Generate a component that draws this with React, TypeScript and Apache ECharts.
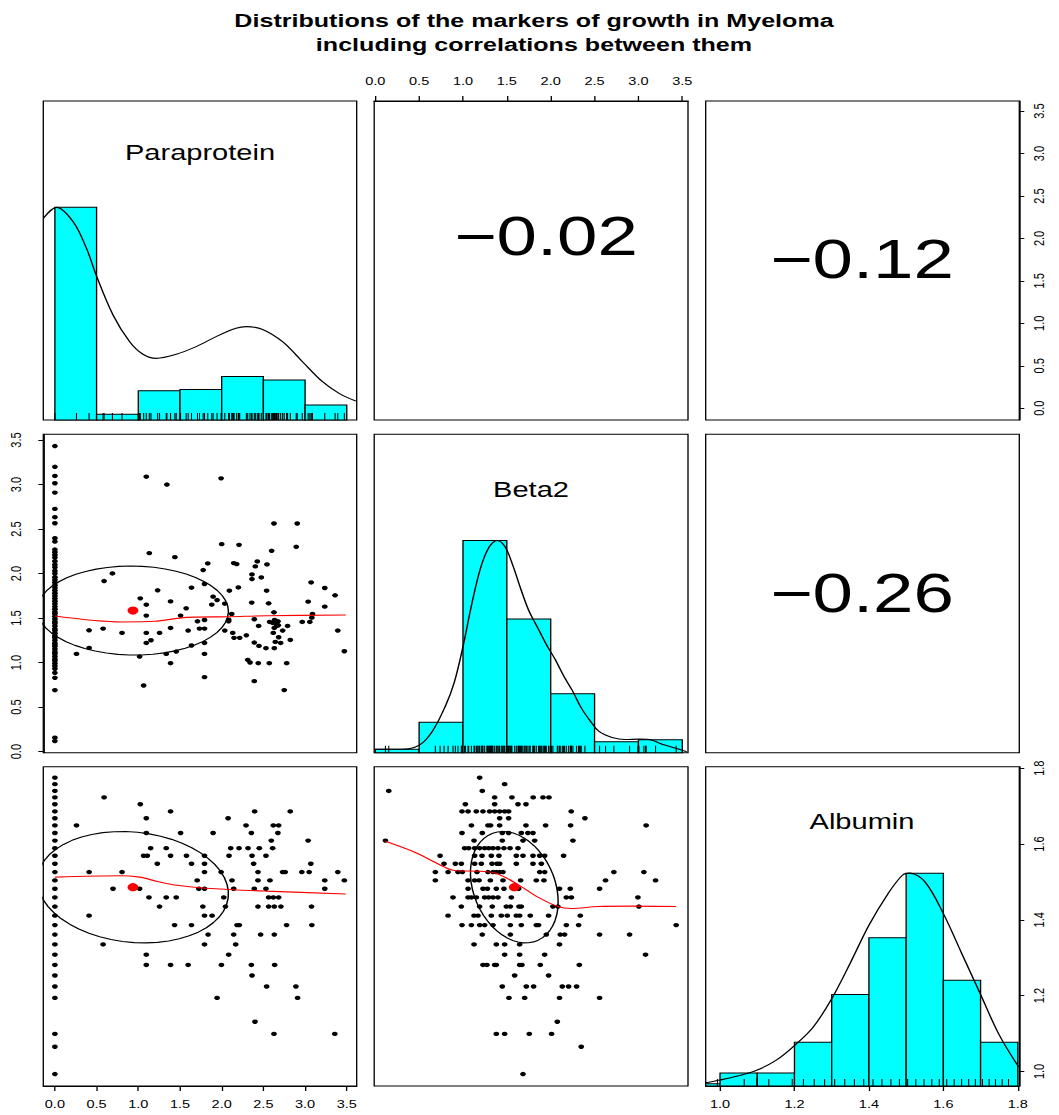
import React, { useEffect, useRef } from 'react';
import * as echarts from 'echarts';

// ---------------- DATA ----------------
const variableNames = ['Paraprotein', 'Beta2', 'Albumin'];
const correlationLabels = ['\u22120.02', '\u22120.12', '\u22120.26']; // (Para,Beta2), (Para,Albumin), (Beta2,Albumin)
const correlationValues = [-0.02, -0.12, -0.26];
const variableMeans = [0.936, 1.585, 1.486];
const variableSds = [1.145, 0.5, 0.147];
const axisRanges: number[][] = [[-0.139, 3.619], [-0.012, 3.565], [0.9615, 1.804]];
const paraTicks = [0, 0.5, 1.0, 1.5, 2.0, 2.5, 3.0, 3.5];
const beta2Ticks = [0, 0.5, 1.0, 1.5, 2.0, 2.5, 3.0, 3.5];
const albuminTicks = [1.0, 1.2, 1.4, 1.6, 1.8];

// histograms (bar heights relative to tallest bar)
const paraBreaks = [0, 0.5, 1.0, 1.5, 2.0, 2.5, 3.0, 3.5];
const paraHeights = [1.0, 0.027, 0.138, 0.144, 0.204, 0.188, 0.071];
const beta2Breaks = [0, 0.5, 1.0, 1.5, 2.0, 2.5, 3.0, 3.5];
const beta2Heights = [0.016, 0.143, 1.0, 0.63, 0.278, 0.052, 0.061];
const albuminBreaks = [0.9, 1.0, 1.1, 1.2, 1.3, 1.4, 1.5, 1.6, 1.7, 1.8];
const albuminHeights = [0.011, 0.061, 0.061, 0.205, 0.43, 0.696, 1.0, 0.497, 0.205];

// density curves (scaled to peak 1)
const paraDensity = [[-0.139, 0.948], [0.02, 1.0], [0.219, 0.932], [0.379, 0.807], [0.502, 0.674], [0.697, 0.494], [0.897, 0.368], [1.056, 0.309], [1.216, 0.29], [1.455, 0.309], [1.694, 0.345], [1.933, 0.392], [2.172, 0.431], [2.292, 0.439], [2.491, 0.426], [2.73, 0.368], [2.969, 0.274], [3.209, 0.18], [3.408, 0.125], [3.607, 0.089]];
const beta2Density = [[-0.01, 0.016], [0.3, 0.016], [0.5, 0.035], [0.65, 0.1], [0.8, 0.22], [0.9, 0.33], [1.0, 0.5], [1.1, 0.7], [1.2, 0.87], [1.3, 0.97], [1.39, 1.0], [1.48, 0.97], [1.57, 0.88], [1.66, 0.77], [1.75, 0.67], [1.85, 0.59], [1.95, 0.51], [2.05, 0.44], [2.15, 0.36], [2.25, 0.29], [2.35, 0.21], [2.45, 0.15], [2.55, 0.1], [2.7, 0.072], [2.85, 0.062], [3.0, 0.064], [3.1, 0.063], [3.3, 0.036], [3.55, 0.005]];
const albuminDensity = [[0.962, 0.0155], [1.0, 0.028], [1.05, 0.048], [1.1, 0.075], [1.15, 0.12], [1.2, 0.19], [1.25, 0.276], [1.3, 0.41], [1.35, 0.578], [1.4, 0.755], [1.45, 0.9], [1.49, 0.99], [1.51, 1.0], [1.55, 0.96], [1.6, 0.81], [1.65, 0.62], [1.7, 0.43], [1.75, 0.24], [1.802, 0.09]];

// Paraprotein = 0 column (Beta2 values)
const zeroParaBeta2 = [3.433, 3.2, 3.097, 3.015, 2.91, 2.727, 2.634, 2.566, 2.398, 2.36, 2.27, 2.24, 2.21, 2.18, 2.14, 2.1, 2.07, 2.03, 2.0, 1.96, 1.93, 1.9, 1.87, 1.84, 1.81, 1.78, 1.75, 1.72, 1.69, 1.66, 1.63, 1.6, 1.57, 1.55, 1.52, 1.49, 1.46, 1.44, 1.41, 1.38, 1.36, 1.33, 1.3, 1.28, 1.25, 1.22, 1.2, 1.18, 1.15, 1.12, 1.1, 1.07, 1.04, 1.02, 0.99, 0.96, 0.93, 0.885, 0.829, 0.69, 0.157, 0.119];
// Paraprotein vs Beta2 (non-zero paraprotein)
const paraBeta2Points = [[0.259, 1.098], [0.41, 1.363], [0.41, 1.165], [0.578, 1.382], [0.59, 1.916], [0.69, 2.002], [0.805, 1.334], [1.016, 1.068], [1.024, 1.722], [1.064, 0.743], [1.096, 3.089], [1.096, 1.651], [1.096, 1.528], [1.096, 1.334], [1.096, 1.221], [1.132, 2.23], [1.152, 1.251], [1.232, 1.812], [1.255, 1.334], [1.335, 1.098], [1.343, 3.0], [1.387, 1.688], [1.387, 1.39], [1.387, 0.994], [1.439, 2.185], [1.455, 1.124], [1.507, 1.528], [1.574, 1.61], [1.598, 1.36], [1.638, 1.842], [1.638, 1.192], [1.71, 1.464], [1.734, 1.382], [1.778, 2.04], [1.794, 1.883], [1.794, 1.479], [1.794, 1.382], [1.794, 1.221], [1.794, 1.098], [1.794, 0.837], [1.833, 2.114], [1.881, 1.651], [1.897, 1.741], [1.945, 1.703], [1.993, 3.07], [2.0, 2.331], [2.037, 1.662], [2.037, 1.36], [2.084, 1.483], [2.084, 1.464], [2.092, 1.808], [2.12, 1.546], [2.132, 1.334], [2.144, 2.118], [2.148, 1.278], [2.18, 2.107], [2.2, 1.845], [2.208, 2.323], [2.216, 1.278], [2.296, 1.307], [2.312, 1.031], [2.34, 1.001], [2.36, 1.674], [2.363, 1.991], [2.363, 1.939], [2.391, 1.487], [2.391, 1.225], [2.391, 0.792], [2.403, 2.081], [2.427, 2.137], [2.439, 0.994], [2.443, 1.412], [2.447, 1.188], [2.475, 1.957], [2.531, 1.162], [2.539, 1.808], [2.543, 2.103], [2.563, 1.666], [2.571, 0.994], [2.575, 1.457], [2.599, 2.256], [2.611, 1.446], [2.619, 1.334], [2.627, 2.563], [2.627, 1.565], [2.631, 1.162], [2.635, 1.479], [2.643, 1.233], [2.659, 1.412], [2.675, 1.464], [2.683, 1.285], [2.707, 1.221], [2.731, 1.36], [2.75, 0.691], [2.779, 0.994], [2.79, 1.412], [2.823, 1.255], [2.894, 2.301], [2.906, 2.563], [2.966, 1.457], [3.037, 1.685], [3.057, 1.457], [3.073, 1.901], [3.081, 1.505], [3.089, 1.546], [3.236, 1.838], [3.236, 1.629], [3.36, 1.756], [3.392, 1.36], [3.471, 1.128], [2.658, 1.438], [2.679, 1.419], [2.631, 1.39]];

// Paraprotein = 0 column (Albumin values)
const zeroParaAlbumin = [1.775, 1.758, 1.740, 1.723, 1.705, 1.686, 1.668, 1.649, 1.629, 1.609, 1.589, 1.569, 1.548, 1.526, 1.504, 1.482, 1.459, 1.435, 1.411, 1.386, 1.361, 1.335, 1.308, 1.281, 1.253, 1.224, 1.194, 1.099, 1.065, 0.993];
// Paraprotein vs Albumin (non-zero paraprotein)
const paraAlbuminPoints = [[0.59, 1.723], [1.024, 1.705], [1.387, 1.686], [2.395, 1.686], [2.822, 1.686], [1.096, 1.668], [2.077, 1.668], [0.259, 1.649], [2.292, 1.649], [2.619, 1.649], [2.683, 1.649], [1.096, 1.629], [1.507, 1.629], [1.897, 1.629], [2.356, 1.629], [2.674, 1.629], [2.595, 1.609], [3.037, 1.609], [1.148, 1.589], [1.335, 1.589], [2.108, 1.589], [2.208, 1.589], [2.316, 1.589], [2.451, 1.589], [2.611, 1.589], [1.064, 1.569], [1.108, 1.569], [1.387, 1.569], [1.578, 1.569], [1.794, 1.569], [2.088, 1.569], [2.364, 1.569], [2.531, 1.569], [1.228, 1.548], [1.638, 1.548], [1.794, 1.548], [2.383, 1.548], [3.069, 1.548], [0.41, 1.526], [0.805, 1.526], [1.794, 1.526], [1.993, 1.526], [2.435, 1.526], [2.73, 1.526], [2.762, 1.526], [2.961, 1.526], [3.049, 1.526], [3.392, 1.526], [1.706, 1.504], [2.124, 1.504], [2.435, 1.504], [2.579, 1.504], [3.236, 1.504], [3.471, 1.504], [0.697, 1.482], [1.016, 1.482], [1.726, 1.482], [1.794, 1.482], [2.144, 1.482], [2.391, 1.482], [2.531, 1.482], [3.236, 1.482], [1.128, 1.459], [1.335, 1.459], [1.455, 1.459], [2.025, 1.459], [2.563, 1.459], [2.619, 1.459], [2.683, 1.459], [1.255, 1.435], [1.774, 1.435], [2.045, 1.435], [2.435, 1.435], [2.563, 1.435], [2.631, 1.435], [2.71, 1.435], [3.077, 1.435], [0.41, 1.411], [1.794, 1.411], [1.885, 1.411], [1.435, 1.386], [1.638, 1.386], [2.184, 1.386], [2.212, 1.386], [2.778, 1.386], [3.081, 1.386], [1.837, 1.361], [2.144, 1.361], [2.467, 1.361], [2.631, 1.361], [0.578, 1.335], [1.794, 1.335], [2.168, 1.335], [1.096, 1.308], [2.084, 1.308], [1.096, 1.281], [1.387, 1.281], [1.598, 1.281], [1.997, 1.281], [2.356, 1.281], [2.635, 1.281], [2.364, 1.253], [2.539, 1.224], [2.89, 1.224], [1.945, 1.194], [2.91, 1.194], [2.399, 1.131], [2.627, 1.099], [3.356, 1.099]];

// Beta2 vs Albumin
const beta2AlbuminPoints = [[1.19, 1.775], [1.475, 1.758], [0.154, 1.740], [1.22, 1.740], [1.361, 1.723], [1.558, 1.723], [1.80, 1.723], [1.912, 1.723], [1.98, 1.723], [1.027, 1.705], [1.361, 1.705], [1.627, 1.705], [1.718, 1.705], [0.989, 1.686], [1.058, 1.686], [1.152, 1.686], [1.228, 1.686], [1.304, 1.686], [1.361, 1.686], [1.418, 1.686], [1.475, 1.686], [1.52, 1.686], [2.234, 1.686], [1.418, 1.668], [1.52, 1.668], [2.39, 1.668], [1.096, 1.649], [1.285, 1.649], [1.315, 1.649], [1.418, 1.649], [1.718, 1.649], [1.942, 1.649], [2.227, 1.649], [3.088, 1.649], [0.989, 1.629], [1.22, 1.629], [1.448, 1.629], [1.52, 1.629], [1.665, 1.629], [1.74, 1.629], [1.798, 1.629], [0.116, 1.609], [1.126, 1.609], [1.448, 1.609], [1.684, 1.609], [1.817, 1.609], [2.253, 1.609], [1.019, 1.589], [1.065, 1.589], [1.133, 1.589], [1.19, 1.589], [1.247, 1.589], [1.293, 1.589], [1.342, 1.589], [1.399, 1.589], [1.467, 1.589], [1.536, 1.589], [1.627, 1.589], [0.739, 1.569], [1.133, 1.569], [1.217, 1.569], [1.323, 1.569], [1.41, 1.569], [1.608, 1.569], [1.684, 1.569], [1.798, 1.569], [1.874, 1.569], [1.931, 1.569], [2.147, 1.569], [0.784, 1.548], [0.913, 1.548], [0.981, 1.548], [1.133, 1.548], [1.209, 1.548], [1.331, 1.548], [1.388, 1.548], [1.418, 1.548], [1.608, 1.548], [1.798, 1.548], [1.893, 1.548], [0.685, 1.526], [0.83, 1.526], [0.943, 1.526], [0.993, 1.526], [1.16, 1.526], [1.285, 1.526], [1.342, 1.526], [1.38, 1.526], [1.418, 1.526], [1.456, 1.526], [1.874, 1.526], [1.931, 1.526], [2.72, 1.526], [3.062, 1.526], [0.685, 1.504], [1.058, 1.504], [1.133, 1.504], [1.183, 1.504], [1.312, 1.504], [1.456, 1.504], [1.657, 1.504], [1.836, 1.504], [1.923, 1.504], [2.625, 1.504], [3.195, 1.504], [1.058, 1.482], [1.228, 1.482], [1.278, 1.482], [1.38, 1.482], [1.467, 1.482], [1.634, 1.482], [2.1, 1.482], [2.223, 1.482], [2.557, 1.482], [0.886, 1.459], [1.058, 1.459], [1.096, 1.459], [1.152, 1.459], [1.247, 1.459], [1.293, 1.459], [1.342, 1.459], [1.399, 1.459], [1.551, 1.459], [2.178, 1.459], [2.236, 1.459], [2.994, 1.459], [0.981, 1.435], [1.19, 1.435], [1.334, 1.435], [1.494, 1.435], [1.54, 1.435], [1.638, 1.435], [1.665, 1.435], [2.025, 1.435], [2.082, 1.435], [3.005, 1.435], [0.83, 1.411], [1.126, 1.411], [1.171, 1.411], [1.323, 1.411], [1.437, 1.411], [1.505, 1.411], [1.608, 1.411], [1.646, 1.411], [1.767, 1.411], [1.976, 1.411], [2.337, 1.411], [0.989, 1.386], [1.096, 1.386], [1.19, 1.386], [1.247, 1.386], [1.342, 1.386], [1.54, 1.386], [1.665, 1.386], [1.836, 1.386], [1.862, 1.386], [2.178, 1.386], [2.318, 1.386], [3.43, 1.386], [1.22, 1.361], [1.54, 1.361], [1.95, 1.361], [2.109, 1.361], [2.158, 1.361], [2.557, 1.361], [2.899, 1.361], [1.126, 1.335], [1.38, 1.335], [1.475, 1.335], [1.646, 1.335], [2.1, 1.335], [1.475, 1.308], [1.646, 1.308], [1.931, 1.308], [3.081, 1.308], [1.228, 1.281], [1.273, 1.281], [1.361, 1.281], [1.38, 1.281], [1.646, 1.281], [1.672, 1.281], [1.881, 1.281], [2.326, 1.281], [1.589, 1.253], [1.976, 1.253], [1.448, 1.224], [1.722, 1.224], [1.805, 1.224], [2.132, 1.224], [2.204, 1.224], [2.295, 1.224], [1.524, 1.194], [1.703, 1.194], [2.1, 1.194], [2.557, 1.194], [2.075, 1.131], [1.38, 1.099], [1.475, 1.099], [1.756, 1.099], [2.01, 1.099], [2.348, 1.065], [1.684, 0.993]];

// smoothers (red)
const paraBeta2Smooth = [[0, 1.524], [0.797, 1.457], [1.196, 1.464], [1.575, 1.508], [2.093, 1.516], [2.53, 1.527], [3.488, 1.535]];
const paraAlbuminSmooth = [[0, 1.5126], [0.777, 1.5163], [1.016, 1.5126], [1.216, 1.502], [1.415, 1.4926], [1.734, 1.4847], [2.133, 1.4795], [2.532, 1.4758], [3.488, 1.468]];
const beta2AlbuminSmooth = [[0.116, 1.607], [0.45, 1.578], [0.792, 1.539], [0.906, 1.530], [1.21, 1.528], [1.399, 1.521], [1.627, 1.493], [1.855, 1.46], [2.083, 1.435], [2.235, 1.430], [2.538, 1.435], [2.918, 1.436], [3.43, 1.435]];

// ---------------- LAYOUT ----------------
const PAGE_W = 1059;
const INNER_W = 802;
const PAGE_H = 1115;
const STRETCH = PAGE_W / INNER_W;
const FONT = "'Liberation Sans', Arial, Helvetica, sans-serif";
const COL_LEFT = [43.3, 374.2, 705.7];
const COL_WIDTH = [313.4, 313.8, 313.6];
const ROW_TOP = [101, 434.3, 766.7];
const ROW_HEIGHT = [319, 318.4, 319.3];
const HIST_RANGE = [0, 1.5];
const RUG_LEN = 7;

const fmt = (v: any) => Number(v).toFixed(1);

function hiddenAxis(gridIndex: number, range: number[]) {
  return {
    type: 'value', gridIndex, min: range[0], max: range[1], show: false,
    axisLine: { show: false, onZero: false }, splitLine: { show: false },
  };
}

function shownAxis(gridIndex: number, range: number[], position: string, ticks: number[], margin: number, vertical: boolean) {
  return {
    type: 'value', gridIndex, min: range[0], max: range[1], position, show: true,
    axisLine: { show: true, onZero: false, lineStyle: { color: '#000', width: 1 } },
    axisTick: { show: true, inside: false, length: vertical ? 5 / STRETCH : 5, customValues: ticks, lineStyle: { color: '#000', width: 1 } },
    axisLabel: {
      show: true, customValues: ticks, formatter: fmt, margin, rotate: vertical ? 90 : 0,
      fontSize: 11, fontFamily: FONT, color: '#000',
    },
    splitLine: { show: false },
  };
}

function ellipsePoints(mx: number, my: number, sx: number, sy: number, r: number, segments = 51) {
  const theta = r !== 0 ? Math.sign(r) / Math.SQRT2 : 1 / Math.SQRT2;
  const a = Math.sqrt(1 + r);
  const b = Math.sqrt(1 - r);
  const pts: number[][] = [];
  for (let i = 0; i <= segments; i++) {
    const ang = (i * 2 * Math.PI) / segments;
    const c = Math.cos(ang);
    const s = Math.sin(ang);
    const ux = c * a * theta - s * b * theta;
    const uy = c * a * theta + s * b * theta;
    pts.push([ux * sx + mx, uy * sy + my]);
  }
  return pts;
}

function histSeries(g: number, breaks: number[], heights: number[], xmin: number) {
  return {
    type: 'custom', xAxisIndex: g, yAxisIndex: g, silent: true, z: 2,
    data: heights.map((h, i) => [breaks[i], breaks[i + 1], h]),
    encode: { x: [0, 1], y: 2 },
    renderItem: (params: any, api: any) => {
      const x0 = Math.max(api.value(0), xmin);
      const p0 = api.coord([x0, 0]);
      const p1 = api.coord([api.value(1), api.value(2)]);
      return {
        type: 'rect',
        shape: { x: p0[0], y: p1[1], width: p1[0] - p0[0], height: p0[1] - p1[1] },
        style: { fill: '#00FFFF', stroke: '#000', lineWidth: 1 },
      };
    },
  };
}

function rugSeries(g: number, values: number[]) {
  const uniq = Array.from(new Set(values.map((v) => Math.round(v * 1000) / 1000)));
  return {
    type: 'custom', xAxisIndex: g, yAxisIndex: g, silent: true, z: 4,
    data: uniq.map((v) => [v, 0]),
    encode: { x: 0, y: 1 },
    renderItem: (params: any, api: any) => {
      const p = api.coord([api.value(0), 0]);
      return {
        type: 'line',
        shape: { x1: p[0], y1: p[1], x2: p[0], y2: p[1] - RUG_LEN },
        style: { stroke: '#000', lineWidth: 0.8 },
      };
    },
  };
}

function lineSeries(g: number, data: number[][], color: string, smooth: any, z: number) {
  return {
    type: 'line', xAxisIndex: g, yAxisIndex: g, data, smooth,
    symbol: 'none', showSymbol: false, clip: true, silent: true, z, lineStyle: { color, width: 1.1 },
  };
}

function scatterSeries(g: number, data: number[][], color: string, size: number, z: number) {
  return {
    type: 'scatter', xAxisIndex: g, yAxisIndex: g, data, symbol: 'circle', symbolSize: size,
    silent: true, z, clip: true, itemStyle: { color, opacity: 1 },
  };
}

function buildOption() {
  const grid: any[] = [];
  const xAxis: any[] = [];
  const yAxis: any[] = [];
  const series: any[] = [];

  for (let r = 0; r < 3; r++) {
    for (let c = 0; c < 3; c++) {
      const g = r * 3 + c;
      grid.push({
        left: COL_LEFT[c] / STRETCH, top: ROW_TOP[r], width: COL_WIDTH[c] / STRETCH, height: ROW_HEIGHT[r],
        show: true, borderColor: '#000', borderWidth: 1, backgroundColor: 'transparent',
        containLabel: false, outerBoundsMode: 'none',
      });
      if (g === 1) xAxis.push(shownAxis(g, axisRanges[1], 'top', beta2Ticks, 14, false));
      else if (g === 6) xAxis.push(shownAxis(g, axisRanges[0], 'bottom', paraTicks, 13, false));
      else if (g === 8) xAxis.push(shownAxis(g, axisRanges[2], 'bottom', albuminTicks, 13, false));
      else xAxis.push(hiddenAxis(g, axisRanges[c]));
      const yRange = r === c ? HIST_RANGE : axisRanges[r];
      if (g === 2) yAxis.push(shownAxis(g, axisRanges[0], 'right', paraTicks, 9, true));
      else if (g === 3) yAxis.push(shownAxis(g, axisRanges[1], 'left', beta2Ticks, 15.5, true));
      else yAxis.push(hiddenAxis(g, yRange));
    }
  }
  yAxis.push({ ...shownAxis(8, axisRanges[2], 'right', albuminTicks, 9, true) });

  series.push(histSeries(0, paraBreaks, paraHeights, axisRanges[0][0]));
  series.push(lineSeries(0, paraDensity, '#000', 0.35, 3));
  series.push(rugSeries(0, [0, ...paraBeta2Points.map((p) => p[0])]));

  series.push(histSeries(4, beta2Breaks, beta2Heights, axisRanges[1][0]));
  series.push(lineSeries(4, beta2Density, '#000', 0.35, 3));
  series.push(rugSeries(4, beta2AlbuminPoints.map((p) => p[0])));

  series.push(histSeries(8, albuminBreaks, albuminHeights, axisRanges[2][0]));
  series.push(lineSeries(8, albuminDensity, '#000', 0.35, 3));
  series.push(rugSeries(8, beta2AlbuminPoints.map((p) => p[1])));

  const p21 = [...zeroParaBeta2.map((v) => [0, v]), ...paraBeta2Points];
  const p31 = [...zeroParaAlbumin.map((v) => [0, v]), ...paraAlbuminPoints];
  const panels = [
    { g: 3, data: p21, xi: 0, yi: 1, r: correlationValues[0], smooth: paraBeta2Smooth },
    { g: 6, data: p31, xi: 0, yi: 2, r: correlationValues[1], smooth: paraAlbuminSmooth },
    { g: 7, data: beta2AlbuminPoints, xi: 1, yi: 2, r: correlationValues[2], smooth: beta2AlbuminSmooth },
  ];
  panels.forEach((p) => {
    series.push(scatterSeries(p.g, p.data, '#000', 4.4, 2));
    series.push(scatterSeries(p.g, [[variableMeans[p.xi], variableMeans[p.yi]]], '#FF0000', 8.2, 3));
    series.push(lineSeries(p.g, ellipsePoints(variableMeans[p.xi], variableMeans[p.yi], variableSds[p.xi], variableSds[p.yi], p.r), '#000', false, 4));
    series.push(lineSeries(p.g, p.smooth, '#FF0000', 0.3, 5));
  });

  const text = (x: number, y: number, t: string, size: number, weight = 'normal') => ({
    type: 'text', x: x / STRETCH, y, silent: true, z: 10,
    style: {
      text: t, fontSize: size, fontWeight: weight, fontFamily: FONT, fill: '#000',
      align: 'center', verticalAlign: 'middle', textAlign: 'center', textVerticalAlign: 'middle',
    },
  });

  const graphic = [
    text(534, 20.3, 'Distributions of the markers of growth in Myeloma', 19, 'bold'),
    text(534, 44.3, 'including correlations between them', 19, 'bold'),
    text(200, 152, variableNames[0], 22),
    text(531, 489, variableNames[1], 22),
    text(862, 821.5, variableNames[2], 22),
    text(546, 236, correlationLabels[0], 55),
    text(862, 259.5, correlationLabels[1], 55),
    text(862, 593, correlationLabels[2], 55),
  ];

  return {
    animation: false,
    backgroundColor: '#ffffff',
    grid, xAxis, yAxis, series, graphic,
  };
}

export default function App() {
  const ref = useRef<HTMLDivElement>(null);
  useEffect(() => {
    if (!ref.current) return;
    const chart = echarts.init(ref.current, null, { renderer: 'svg', width: INNER_W, height: PAGE_H });
    chart.setOption(buildOption() as any);
    return () => chart.dispose();
  }, []);
  return (
    <div
      ref={ref}
      style={{
        position: 'absolute', left: 0, top: 0, width: INNER_W, height: PAGE_H,
        transform: `scaleX(${STRETCH})`, transformOrigin: '0 0', background: '#fff',
      }}
    />
  );
}
